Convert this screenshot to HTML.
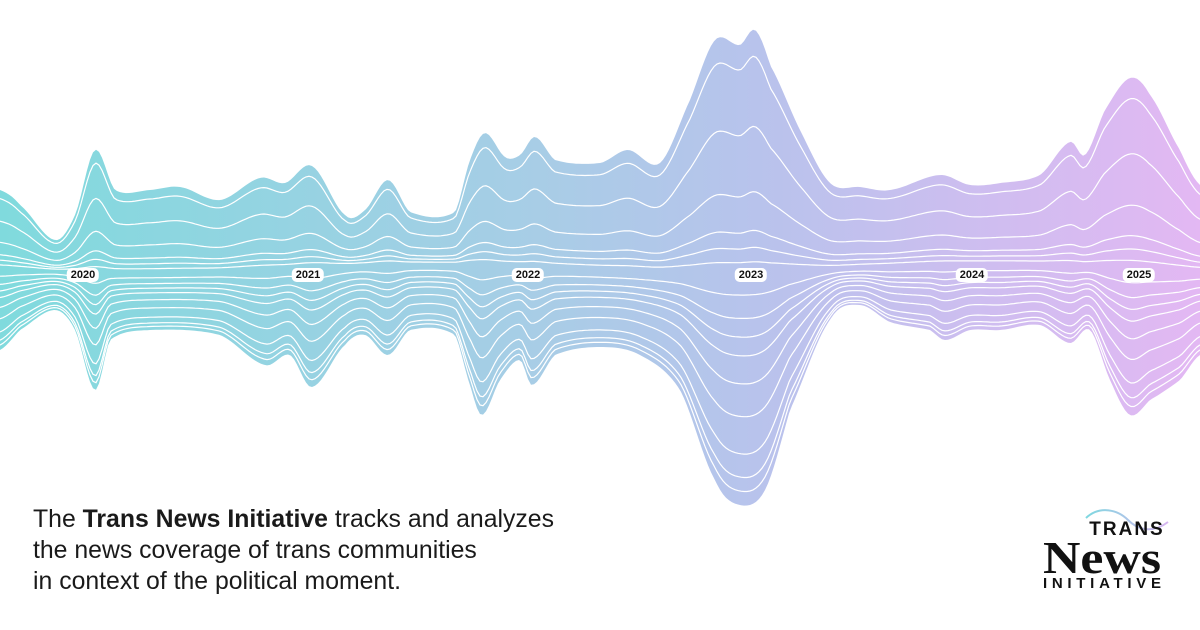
<!DOCTYPE html>
<html><head><meta charset="utf-8"><style>
html,body{margin:0;padding:0;background:#fff;width:1200px;height:630px;overflow:hidden}
.t{position:absolute;left:33px;top:504px;font-family:"Liberation Sans",sans-serif;font-size:24.8px;line-height:31px;color:#1a1a1a}
.yl{position:absolute;font-family:"Liberation Sans",sans-serif;font-weight:bold;font-size:11px;background:#fff;border-radius:5px;padding:1px 4px;color:#111;transform:translate(-50%,-50%)}
</style></head><body>
<svg id="s" width="1200" height="630" style="position:absolute;left:0;top:0">
<defs><linearGradient id="g" x1="0" x2="1200" y1="0" y2="0" gradientUnits="userSpaceOnUse">
<stop offset="0" stop-color="#80dadd"/><stop offset="0.45" stop-color="#a8cde6"/><stop offset="0.63" stop-color="#b8c3ec"/><stop offset="1" stop-color="#e3b8f3"/></linearGradient>
<linearGradient id="lg" x1="0" x2="1" y1="0" y2="0"><stop offset="0" stop-color="#7fd8e0"/><stop offset="1" stop-color="#d7b5f0"/></linearGradient></defs>
<g id="gg"></g>
<path d="M1086 518 C1100 505 1118 510 1128 520 C1140 532 1155 532 1168 522" stroke="url(#lg)" stroke-width="2" fill="none"/>
<text x="1127" y="535" font-family="Liberation Sans,sans-serif" font-size="19" font-weight="bold" text-anchor="middle" fill="#111" letter-spacing="2">TRANS</text>
<text x="1102" y="573" font-family="Liberation Serif,serif" font-size="46" font-weight="bold" text-anchor="middle" fill="#111" textLength="118" lengthAdjust="spacingAndGlyphs">News</text>
<text x="1102" y="588" font-family="Liberation Sans,sans-serif" font-size="15" font-weight="bold" text-anchor="middle" fill="#111" textLength="118" lengthAdjust="spacing">INITIATIVE</text>
</svg>
<div class="yl" style="left:83px;top:275px">2020</div>
<div class="yl" style="left:308px;top:275px">2021</div>
<div class="yl" style="left:528px;top:275px">2022</div>
<div class="yl" style="left:751px;top:275px">2023</div>
<div class="yl" style="left:972px;top:275px">2024</div>
<div class="yl" style="left:1139px;top:275px">2025</div>
<div class="t">The <b>Trans News Initiative</b> tracks and analyzes<br>the news coverage of trans communities<br>in context of the political moment.</div>
<script>
var T=[[0,190],[20,205],[55,240],[75,215],[95,150],[115,190],[150,190],[180,187],[220,200],[260,178],[285,183],[312,166],[345,215],[365,210],[388,180],[410,212],[455,212],[470,160],[485,133],[505,157],[520,155],[535,137],[555,160],[600,163],[628,150],[660,163],[690,100],[715,40],[740,45],[755,30],[770,65],[800,130],[830,183],[860,187],[890,190],[940,175],[970,185],[1000,183],[1040,175],[1070,142],[1085,155],[1105,110],[1130,78],[1150,95],[1180,150],[1200,185]];
var B=[[0,350],[20,330],[55,310],[75,330],[95,390],[110,340],[150,330],[220,335],[265,365],[290,355],[312,387],[345,345],[365,335],[388,355],[410,330],[455,335],[470,385],[482,415],[500,380],[520,360],[532,385],[555,355],[600,347],[640,355],[680,390],[715,480],[740,505],[765,490],[790,410],[830,320],[860,305],[890,322],[930,330],[945,340],[970,330],[1000,330],[1040,325],[1070,343],[1090,330],[1110,380],[1130,415],[1150,400],[1180,380],[1200,355]];
function ev(P,x){for(var i=0;i<P.length-1;i++){if(x<=P[i+1][0]){var p0=P[Math.max(i-1,0)][1],p1=P[i][1],p2=P[i+1][1],p3=P[Math.min(i+2,P.length-1)][1];var t=(x-P[i][0])/(P[i+1][0]-P[i][0]);return 0.5*((2*p1)+(-p0+p2)*t+(2*p0-5*p1+4*p2-p3)*t*t+(-p0+3*p1-3*p2+p3)*t*t*t);}}return P[P.length-1][1];}
var xs=[];for(var x=0;x<=1200;x+=3)xs.push(x);
function cen(x){return 268+4*Math.sin(x/90);}
function line(f,isTop){return xs.map(function(x){var cc=cen(x),e=isTop?ev(T,x):ev(B,x);return [x,cc+f*(e-cc)];});}
var tp=line(1,true),bt=line(1,false);
var d="M"+tp.map(function(p){return p[0]+" "+p[1].toFixed(1);}).join(" L")+" L"+bt.reverse().map(function(p){return p[0]+" "+p[1].toFixed(1);}).join(" L")+"Z";
var h='<path d="'+d+'" fill="url(#g)"/>';
var ft=[0.04,0.1,0.17,0.33,0.6,0.89],fb=[0.1,0.2,0.28,0.36,0.48,0.62,0.78,0.88,0.94];
function pl(f,isTop){return '<path d="M'+line(f,isTop).map(function(p){return p[0]+" "+p[1].toFixed(1);}).join(" L")+'" stroke="#fff" stroke-width="1.2" fill="none"/>';}
ft.forEach(function(f){h+=pl(f,true);});
fb.forEach(function(f){h+=pl(f,false);});
document.getElementById("gg").innerHTML=h;
</script>
</body></html>
